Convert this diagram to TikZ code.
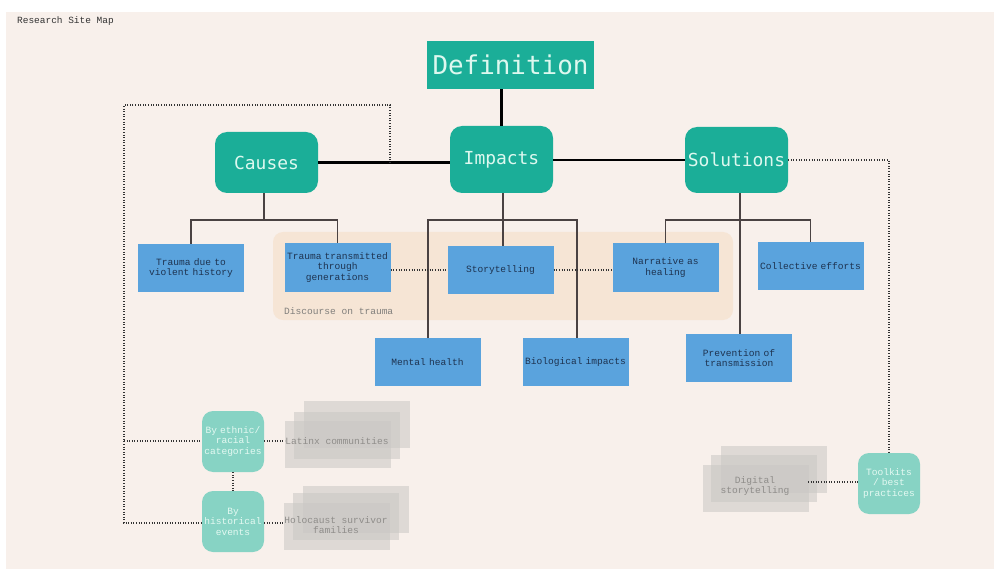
\documentclass[tikz,border=0pt]{standalone}
\usepackage{fontspec}
\setmonofont{DejaVu Sans Mono}
\newfontfamily\lmono{Liberation Mono}
\definecolor{bgc}{HTML}{F8F0EB}
\definecolor{teal1}{HTML}{1BAE98}
\definecolor{teal2}{HTML}{87D3C4}
\definecolor{mint}{HTML}{DDF8EF}
\definecolor{blu}{HTML}{5AA3DD}
\definecolor{navy}{HTML}{1E3350}
\definecolor{disc}{HTML}{F6E5D5}
\definecolor{stk}{HTML}{C9C7C4}
\definecolor{stktxt}{HTML}{8F8D8A}
\definecolor{lnc}{HTML}{4A4242}
\tikzset{
  mainbox/.style={fill=teal1, rounded corners=12bp, text=mint, font=\ttfamily\fontsize{18}{20}\selectfont, inner sep=0pt},
  leafbox/.style={fill=blu, text=navy, font=\lmono\fontsize{9.6}{10.5}\selectfont, align=center, inner sep=0pt, minimum width=106bp, minimum height=48bp, text width=104bp},
  catbox/.style={fill=teal2, rounded corners=11bp, text=mint!80!white, font=\lmono\fontsize{9.6}{10.5}\selectfont, align=center, inner sep=0pt, minimum width=62bp, minimum height=61bp, text width=62bp},
  stackbox/.style={fill=stk, fill opacity=0.55, draw=none, minimum width=106bp, minimum height=47bp, inner sep=0pt},
  stacktext/.style={text=stktxt, font=\lmono\fontsize{9.6}{10.5}\selectfont, align=center, inner sep=0pt},
  thickln/.style={line width=2.6bp, black},
  thinln/.style={line width=1.4bp, lnc},
  dotln/.style={line width=1.1bp, black!80, dash pattern=on 1bp off 1.6bp},
}
\begin{document}
\begin{tikzpicture}[x=1bp,y=-1bp]
\useasboundingbox (0,0) rectangle (994,569);
\fill[white] (0,0) rectangle (994,569);
\fill[bgc] (6,12) rectangle (994,569);
\node[anchor=west, text=black!80, font=\lmono\fontsize{9.5}{10.5}\selectfont, inner sep=0pt] (title) at (17,21) {Research Site Map};

% discourse region
\fill[disc, rounded corners=10bp] (273,232) rectangle (733,320);
\node[anchor=west, text=stktxt!90!black, font=\lmono\fontsize{9.6}{10.5}\selectfont, inner sep=0pt] (dlab) at (284,311) {Discourse on trauma};

% main boxes
\node[mainbox, rounded corners=0pt, minimum width=167bp, minimum height=48bp, font=\ttfamily\fontsize{26}{28}\selectfont] (def) at (510.5,65) {Definition};
\node[mainbox, minimum width=103bp, minimum height=61bp] (causes) at (266.5,162.5) {Causes};
\node[mainbox, minimum width=103bp, minimum height=67bp] (imp) at (501.5,159.5) {Impacts};
\node[mainbox, minimum width=103bp, minimum height=66bp] (sol) at (736.5,160) {Solutions};

% leaf boxes
\node[leafbox] (tv) at (191,268) {Trauma due to\\violent history};
\node[leafbox] (tt) at (337.5,267.5) {Trauma transmitted\\through\\generations};
\node[leafbox] (st) at (500.5,270) {Storytelling};
\node[leafbox] (nh) at (665.5,267.5) {Narrative as\\healing};
\node[leafbox] (ce) at (810.5,266) {Collective efforts};
\node[leafbox] (mh) at (427.5,362) {Mental health};
\node[leafbox] (bi) at (575.5,362) {Biological impacts};
\node[leafbox] (pt) at (739,358) {Prevention of\\transmission};

% category boxes
\node[catbox] (eth) at (233,441.5) {By ethnic/\\racial\\categories};
\node[catbox] (his) at (233,521.5) {By\\historical\\events};
\node[catbox, minimum height=61bp] (tool) at (889,483.5) {Toolkits\\/ best\\practices};

% stacks
\node[stackbox] (la3) at (356.5,424) {};
\node[stackbox] (la2) at (347,435) {};
\node[stackbox] (la1) at (337.5,444) {};
\node[stacktext] (latx) at (337,441) {Latinx communities};
\node[stackbox] (ho3) at (355.5,509) {};
\node[stackbox] (ho2) at (345.5,516.5) {};
\node[stackbox] (ho1) at (336.5,526) {};
\node[stacktext] (holo) at (336,525) {Holocaust survivor\\families};
\node[stackbox] (ds3) at (774,469.5) {};
\node[stackbox] (ds2) at (764,478.5) {};
\node[stackbox] (ds1) at (756,488) {};
\node[stacktext] (dig) at (755,486) {Digital\\storytelling};

% thick connectors
\draw[thickln] (def.south -| imp.north) -- (imp.north);
\draw[thickln] (causes.east) -- (causes.east -| imp.west);
\draw[thickln] (imp.east |- sol.west) -- (sol.west);

% thin tree connectors
\coordinate (cj) at (264,220);
\draw[thinln] (cj |- causes.south) -- (cj);
\draw[thinln] (tv.north) -- (tv.north |- cj) -- (tt.north |- cj) -- (tt.north);
\coordinate (ij) at (503,220);
\draw[thinln] (ij |- imp.south) -- (ij |- st.north);
\draw[thinln] (428,338) -- (428,220) -- (577,220) -- (577,338);
\coordinate (sj) at (740,220);
\draw[thinln] (sj |- sol.south) -- (sj |- pt.north);
\draw[thinln] (nh.north) -- (nh.north |- sj) -- (ce.north |- sj) -- (ce.north);

% dotted connectors
\coordinate (d1) at (390,163);
\draw[dotln] (d1) -- (390,105) -- (124,105) -- (124,523) -- (his.west |- 0,523);
\draw[dotln] (124,441) -- (eth.west |- 0,441);
\draw[dotln] (eth.south) -- (his.north);
\draw[dotln] (eth.east |- 0,441) -- (285,441);
\draw[dotln] (his.east |- 0,523) -- (283,523);
\draw[dotln] (tt.east |- 0,270) -- (st.west |- 0,270);
\draw[dotln] (st.east |- 0,270) -- (nh.west |- 0,270);
\draw[dotln] (sol.east |- 0,160) -- (889,160) -- (tool.north);
\draw[dotln] (808,482) -- (tool.west |- 0,482);
\end{tikzpicture}
\end{document}
